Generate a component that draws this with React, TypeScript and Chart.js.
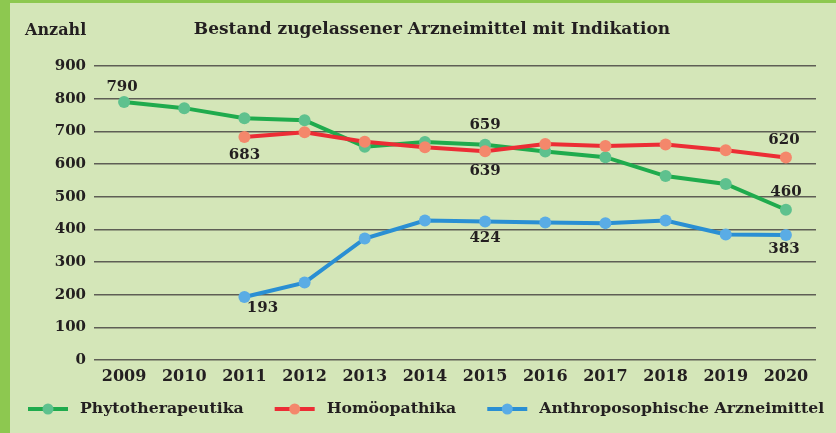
import React, { useEffect, useRef } from "react";
import { Chart, registerables } from "chart.js";

Chart.register(...registerables);

// ---------- data ----------
const years = ["2009", "2010", "2011", "2012", "2013", "2014", "2015", "2016", "2017", "2018", "2019", "2020"];
const phyto = [790, 771, 740, 734, 653, 667, 659, 638, 621, 563, 539, 460];
const homoo = [null, null, 683, 697, 668, 651, 639, 661, 655, 660, 642, 620];
const anthro = [null, null, 193, 237, 372, 427, 424, 421, 419, 427, 384, 383];
const seriesNames = ["Phytotherapeutika", "Homöopathika", "Anthroposophische Arzneimittel"];
const chartTitle = "Bestand zugelassener Arzneimittel mit Indikation";
const yAxisTitle = "Anzahl";
const yMin = 0;
const yMax = 900;
const yStep = 100;

// which points carry a value label: [series, category]
const labeledPoints = [
  [0, 0], [1, 2], [0, 6], [1, 6], [1, 11], [0, 11], [2, 11], [2, 6], [2, 2],
];

// ---------- styles ----------
const labelOffsets = [
  [-2, -15], [0, 18], [0, -20], [0, 20], [-2, -17], [0, -18], [-2, 14], [0, 17], [18, 11],
];
const FONT = "'DejaVu Serif', serif";
const TEXT = "#231f20";
const BG = "#d4e6b8";
const BORDER = "#8dc850";
const lineColors = ["#1fab4d", "#ec2d35", "#2a8fd3"];
const pointColors = ["#5ec18e", "#f4876b", "#5aace5"];

const decorPlugin = {
  id: "decor",
  beforeDraw(chart: any) {
    const { ctx, width, height } = chart;
    ctx.save();
    ctx.fillStyle = BG;
    ctx.fillRect(0, 0, width, height);
    ctx.fillStyle = BORDER;
    ctx.fillRect(0, 0, 10, height);
    ctx.fillRect(0, 0, width, 3);
    ctx.restore();
  },
  afterDraw(chart: any) {
    const { ctx } = chart;
    ctx.save();
    ctx.fillStyle = TEXT;
    ctx.textBaseline = "middle";
    ctx.font = `bold 17px ${FONT}`;
    ctx.textAlign = "center";
    ctx.fillText(chartTitle, 432, 30);
    ctx.font = `bold 16px ${FONT}`;
    ctx.textAlign = "left";
    ctx.fillText(yAxisTitle, 25, 31);

    // legend
    let x = 28;
    const y = 409;
    chart.data.datasets.forEach((ds: any) => {
      ctx.strokeStyle = ds.borderColor;
      ctx.lineWidth = 4;
      ctx.beginPath();
      ctx.moveTo(x, y);
      ctx.lineTo(x + 40, y);
      ctx.stroke();
      ctx.fillStyle = ds.pointBackgroundColor;
      ctx.beginPath();
      ctx.arc(x + 20, y, 5.5, 0, Math.PI * 2);
      ctx.fill();
      ctx.fillStyle = TEXT;
      ctx.font = `bold 15.7px ${FONT}`;
      ctx.textAlign = "left";
      ctx.fillText(ds.label, x + 52, y);
      x += 52 + ctx.measureText(ds.label).width + 31;
    });
    ctx.restore();
  },
  afterDatasetsDraw(chart: any) {
    const { ctx } = chart;
    ctx.save();
    ctx.fillStyle = TEXT;
    ctx.font = `bold 15px ${FONT}`;
    ctx.textAlign = "center";
    ctx.textBaseline = "middle";
    labeledPoints.forEach(([s, i], k) => {
      const el = chart.getDatasetMeta(s).data[i];
      const v = chart.data.datasets[s].data[i];
      if (!el || v == null) return;
      const [dx, dy] = labelOffsets[k];
      ctx.fillText(String(v), el.x + dx, el.y + dy);
    });
    ctx.restore();
  },
};

export default function App() {
  const ref = useRef<HTMLCanvasElement | null>(null);
  useEffect(() => {
    document.body.style.margin = "0";
    const canvas = ref.current!;
    const mk = (i: number, data: any[], order: number) => ({
      label: seriesNames[i],
      data,
      order,
      borderColor: lineColors[i],
      backgroundColor: pointColors[i],
      pointBackgroundColor: pointColors[i],
      pointBorderWidth: 0,
      pointRadius: 6,
      borderWidth: 4,
      tension: 0,
      spanGaps: false,
    });
    const chart = new Chart(canvas, {
      type: "line",
      data: {
        labels: years,
        datasets: [mk(0, phyto, 1), mk(1, homoo, 0), mk(2, anthro, 2)],
      },
      options: {
        responsive: false,
        animation: false,
        devicePixelRatio: 1,
        layout: { padding: { top: 66, right: 20, bottom: 41, left: 0 } },
        plugins: { legend: { display: false }, title: { display: false }, tooltip: { enabled: false } },
        scales: {
          x: {
            offset: true,
            grid: { display: false, drawTicks: false },
            border: { display: false },
            ticks: { color: TEXT, font: { family: FONT, size: 16, weight: "bold" }, padding: 7, maxRotation: 0, autoSkip: false },
            afterFit: (s: any) => { s.height = 32; },
          },
          y: {
            min: yMin,
            max: yMax,
            grid: { color: "#5e5e55", lineWidth: 1.5, drawTicks: false },
            border: { display: false },
            ticks: { stepSize: yStep, color: TEXT, font: { family: FONT, size: 15, weight: "bold" }, padding: 8 },
            afterFit: (s: any) => { s.width = 94; },
          },
        },
      } as any,
      plugins: [decorPlugin],
    });
    return () => chart.destroy();
  }, []);
  return <canvas ref={ref} width={836} height={433} style={{ display: "block" }} />;
}
